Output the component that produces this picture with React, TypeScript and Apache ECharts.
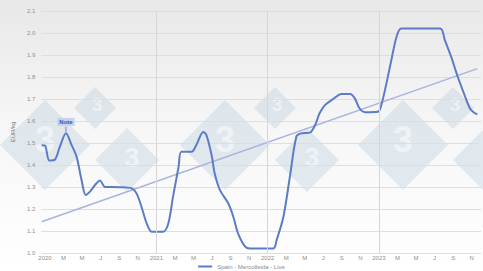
import React, { useEffect, useRef } from "react";
import * as echarts from "echarts";

// Month index: 0 = January 2020
const months = [
  -0.36, 0, 0.47, 1.08, 1.6, 2.26, 2.87, 3.4, 3.95, 4.38, 4.85, 5.39, 5.93, 6.47, 8.08, 9.34, 9.88, 10.4,
  10.96, 11.5, 12.75, 13.3, 13.8, 14.4, 14.7, 15.8, 16.3, 17.06, 17.4, 17.96, 18.3, 18.86, 19.75, 20.3,
  20.8, 21.55, 22.1, 24.6, 24.97, 25.7, 26.4, 27.1, 27.66, 28.55, 29.1, 29.6, 30.2, 30.9, 31.97, 32.9,
  33.4, 33.9, 34.5, 35.9, 36.3, 36.8, 37.4, 37.9, 38.4, 42.6, 43.1, 43.8, 44.5, 45.3, 45.8, 46.2, 46.6,
];
const prices = [
  1.49, 1.488, 1.42, 1.425, 1.483, 1.544, 1.49, 1.438, 1.33, 1.264, 1.279, 1.309, 1.33, 1.3, 1.299, 1.294,
  1.27, 1.21, 1.135, 1.097, 1.097, 1.135, 1.256, 1.392, 1.46, 1.46, 1.49, 1.55, 1.536, 1.445, 1.36, 1.286,
  1.226, 1.165, 1.09, 1.03, 1.02, 1.02, 1.059, 1.165, 1.347, 1.529, 1.544, 1.547, 1.58, 1.635, 1.673,
  1.695, 1.723, 1.723, 1.703, 1.658, 1.64, 1.642, 1.68, 1.77, 1.89, 1.983, 2.02, 2.02, 1.968, 1.89, 1.8,
  1.71, 1.658, 1.64, 1.63,
];
const trendMonths = [-0.36, 46.6];
const trendValues = [1.142, 1.838];
const tickMonths = [0, 2, 4, 6, 8, 10, 12, 14, 16, 18, 20, 22, 24, 26, 28, 30, 32, 34, 36, 38, 40, 42, 44, 46];
const monthLetters = ["J", "F", "M", "A", "M", "J", "J", "A", "S", "O", "N", "D"];
const yearLines = [12, 24, 36];
const noteMonth = 2.26;
const noteValue = 1.544;
const seriesName = "Spain - Mercolleida - Live";

const FONT = "Liberation Sans";

function diamond(cx: number, cy: number, h: number, fs: number, tx: number, ty: number, withText = true) {
  const out: any[] = [
    {
      type: "polygon",
      silent: true,
      z: -10,
      shape: { points: [[cx, cy - h], [cx + h, cy], [cx, cy + h], [cx - h, cy]] },
      style: { fill: "rgba(150,178,206,0.24)" },
    },
  ];
  if (withText) {
    out.push({
      type: "text",
      silent: true,
      z: -9,
      x: cx + tx,
      y: cy + ty,
      style: {
        text: "3",
        font: `bold ${fs}px ${FONT}`,
        fill: "rgba(255,255,255,0.5)",
        align: "center",
        verticalAlign: "middle",
      },
    });
  }
  return out;
}

function cluster(cx: number, cy: number, rightText = true) {
  return [
    ...diamond(cx, cy, 45, 36, 0, -6),
    ...diamond(cx + 50, cy - 37, 21, 19, 2, -4),
    ...diamond(cx + 82, cy + 15, 32, 27, 5, -2, rightText),
  ];
}

export default function App() {
  const ref = useRef<HTMLDivElement>(null);
  useEffect(() => {
    if (!ref.current) return;
    const chart = echarts.init(ref.current, undefined, { renderer: "svg" });
    const mainData = months.map((m, i) => [m, prices[i]]);
    const trendData = trendMonths.map((m, i) => [m, trendValues[i]]);
    chart.setOption({
      animation: false,
      backgroundColor: {
        type: "linear",
        x: 0,
        y: 0,
        x2: 0,
        y2: 1,
        colorStops: [
          { offset: 0, color: "#e8e8e8" },
          { offset: 0.45, color: "#f6f6f6" },
          { offset: 1, color: "#ffffff" },
        ],
      },
      textStyle: { fontFamily: FONT },
      graphic: [...cluster(45, 145), ...cluster(225, 145), ...cluster(403, 145, false)],
      grid: { left: 41.3, right: 2, top: 11, bottom: 18, containLabel: false },
      legend: {
        data: [seriesName],
        top: 263,
        left: "center",
        padding: 0,
        itemWidth: 14,
        itemHeight: 2,
        icon: "rect",
        itemGap: 4,
        textStyle: { fontSize: 6, color: "#8a8a8a", fontFamily: FONT, lineHeight: 7 },
      },
      xAxis: {
        type: "value",
        min: -0.4,
        max: 47,
        axisLine: { show: false },
        axisTick: { show: false },
        splitLine: { show: false },
        axisLabel: {
          customValues: tickMonths,
          fontSize: 6,
          color: "#8f8f8f",
          margin: 2,
          formatter: (v: number) => {
            const r = Math.round(v);
            return r % 12 === 0 ? String(2020 + r / 12) : monthLetters[r % 12];
          },
        },
      },
      yAxis: {
        type: "value",
        min: 1.0,
        max: 2.1,
        interval: 0.1,
        name: "EUR/kg",
        nameLocation: "middle",
        nameGap: 22,
        nameRotate: 90,
        nameTextStyle: { fontSize: 6, color: "#777", fontFamily: FONT },
        axisLine: { show: false },
        axisTick: { show: false },
        axisLabel: {
          fontSize: 6,
          color: "#8f8f8f",
          margin: 6,
          formatter: (v: number) => v.toFixed(1),
        },
        splitLine: { lineStyle: { color: "#dedede", width: 1 } },
      },
      series: [
        {
          name: "trend",
          type: "line",
          data: trendData,
          symbol: "none",
          silent: true,
          lineStyle: { color: "#a9b3df", width: 1.5 },
          z: 1,
          markLine: {
            silent: true,
            symbol: "none",
            label: { show: false },
            lineStyle: { color: "#d6d6d6", width: 1, type: "solid" },
            data: yearLines.map((x) => ({ xAxis: x })),
          },
        },
        {
          name: seriesName,
          type: "line",
          data: mainData,
          symbol: "none",
          smooth: 0.3,
          color: "#5d7cc6",
          lineStyle: { color: "#5d7cc6", width: 2 },
          z: 3,
          markPoint: {
            symbol: "rect",
            symbolSize: [1, 5],
            symbolOffset: [0, -4],
            itemStyle: { color: "#6a86cc" },
            label: {
              show: true,
              position: "top",
              distance: 1,
              formatter: "Note",
              fontSize: 6,
              fontWeight: "bold",
              color: "#3a58a8",
              backgroundColor: "rgba(190,205,235,0.85)",
              padding: [1, 2],
              fontFamily: FONT,
            },
            data: [{ coord: [noteMonth, noteValue], value: "Note" }],
          },
        },
      ],
    });
    return () => chart.dispose();
  }, []);
  return (
    <div
      ref={ref}
      style={{ position: "absolute", left: 0, top: 0, width: 483, height: 271 }}
    />
  );
}
